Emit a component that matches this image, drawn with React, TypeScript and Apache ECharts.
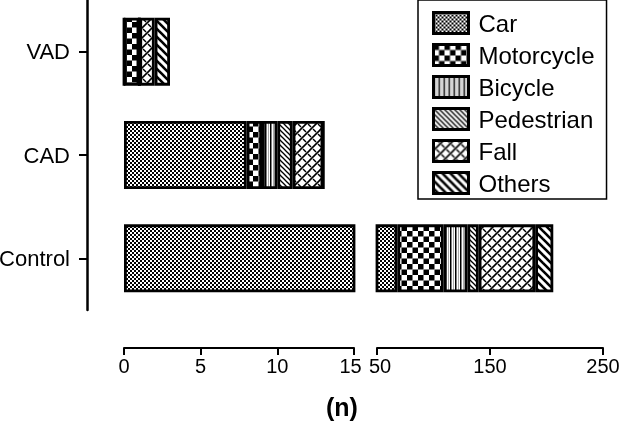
import React, { useEffect, useRef } from "react";
import * as echarts from "echarts";

const categories = ["Control", "CAD", "VAD"];
const seriesNames = ["Car", "Motorcycle", "Bicycle", "Pedestrian", "Fall", "Others"];
const car = [68, 8, 0];
const motorcycle = [41, 1, 1];
const bicycle = [21, 1, 0];
const pedestrian = [10, 1, 0];
const fall = [50, 2, 1];
const others = [16, 0, 1];
const leftTicks = [0, 5, 10, 15];
const rightTicks = [50, 150, 250];

const FONT = "'Liberation Sans', Arial, sans-serif";

function tile(w: number, h: number, draw: (ctx: CanvasRenderingContext2D) => void) {
  const c = document.createElement("canvas");
  c.width = w;
  c.height = h;
  const ctx = c.getContext("2d")!;
  ctx.fillStyle = "#fff";
  ctx.fillRect(0, 0, w, h);
  ctx.fillStyle = "#000";
  ctx.strokeStyle = "#000";
  draw(ctx);
  return c;
}

function makePatterns() {
  const carP = tile(4, 4, (ctx) => {
    ctx.fillRect(0, 0, 2, 2);
    ctx.fillRect(2, 2, 2, 2);
  });
  const motoP = tile(11, 11, (ctx) => {
    ctx.fillRect(0, 0, 5.5, 5.5);
    ctx.fillRect(5.5, 5.5, 5.5, 5.5);
  });
  const bikeP = tile(5, 4, (ctx) => {
    ctx.fillRect(0, 0, 1.5, 4);
    ctx.fillStyle = "#aaa";
    ctx.fillRect(3, 0, 1, 4);
  });
  const pedP = tile(5, 5, (ctx) => {
    ctx.lineWidth = 1.3;
    for (let k = -1; k <= 1; k++) {
      ctx.beginPath();
      ctx.moveTo(k * 5 - 1, -1);
      ctx.lineTo(k * 5 + 6, 6);
      ctx.stroke();
    }
  });
  const fallP = tile(10, 10, (ctx) => {
    ctx.lineWidth = 1.6;
    for (let k = -1; k <= 1; k++) {
      ctx.beginPath();
      ctx.moveTo(k * 10 - 1, 11);
      ctx.lineTo(k * 10 + 11, -1);
      ctx.stroke();
    }
    ctx.lineWidth = 1.4;
    const segs = [
      [3, -1, 6, 2],
      [8, 4, 11, 7],
      [-2, 4, 1, 7],
      [3, 9, 6, 12],
    ];
    for (const [a, b, c, d] of segs) {
      ctx.beginPath();
      ctx.moveTo(a, b);
      ctx.lineTo(c, d);
      ctx.stroke();
    }
  });
  const othP = tile(8, 8, (ctx) => {
    ctx.lineWidth = 2.6;
    for (let k = -1; k <= 1; k++) {
      ctx.beginPath();
      ctx.moveTo(k * 8 - 2, -2);
      ctx.lineTo(k * 8 + 10, 10);
      ctx.stroke();
    }
  });
  return [carP, motoP, bikeP, pedP, fallP, othP];
}

export default function App() {
  const ref = useRef<HTMLDivElement>(null);
  useEffect(() => {
    if (!ref.current) return;
    const chart = echarts.init(ref.current, undefined, { renderer: "svg" });
    const pats = makePatterns();
    const values = [car, motorcycle, bicycle, pedestrian, fall, others];
    const series: any[] = [];
    for (let p = 0; p < 2; p++) {
      seriesNames.forEach((name, i) => {
        series.push({
          type: "bar",
          name,
          stack: p === 0 ? "left" : "right",
          xAxisIndex: p,
          yAxisIndex: p,
          barWidth: 68,
          clip: true,
          data: values[i],
          itemStyle: {
            color: { image: pats[i], repeat: "repeat" },
            borderColor: "#000",
            borderWidth: 2.8,
          },
          emphasis: { disabled: true },
        });
      });
    }
    const labelBase = { color: "#000", fontSize: 20, fontFamily: FONT, margin: 8 };
    const xAxisCommon = {
      type: "value",
      position: "bottom",
      offset: 38,
      splitLine: { show: false },
      axisLine: { show: true, onZero: false, lineStyle: { color: "#000", width: 2 } },
      axisTick: { show: true, length: 7, lineStyle: { color: "#000", width: 2 } },
    };
    chart.setOption({
      animation: false,
      grid: [
        { left: 124, width: 230, top: 0, height: 310, outerBoundsMode: "none", containLabel: false },
        { left: 377, width: 226, top: 0, height: 310, outerBoundsMode: "none", containLabel: false },
      ],
      xAxis: [
        {
          ...xAxisCommon,
          gridIndex: 0,
          min: 0,
          max: 15,
          interval: 5,
          axisLabel: {
            ...labelBase,
            customValues: leftTicks,
            formatter: (v: number) => (v === 15 ? "{l|" + v + "}" : String(v)),
            rich: { l: { fontSize: 20, fontFamily: FONT, color: "#000", padding: [0, 7, 0, 0] } },
          },
          axisTick: { ...xAxisCommon.axisTick, customValues: leftTicks },
        },
        {
          ...xAxisCommon,
          gridIndex: 1,
          min: 50,
          max: 250,
          axisLabel: {
            ...labelBase,
            customValues: rightTicks,
            formatter: (v: number) => (v === 50 ? "{r|" + v + "}" : String(v)),
            rich: { r: { fontSize: 20, fontFamily: FONT, color: "#000", padding: [0, 0, 0, 6] } },
          },
          axisTick: { ...xAxisCommon.axisTick, customValues: rightTicks },
        },
      ],
      yAxis: [
        {
          type: "category",
          gridIndex: 0,
          data: categories,
          offset: 37,
          axisLine: { show: true, onZero: false, lineStyle: { color: "#000", width: 2.5 } },
          axisTick: { show: true, alignWithLabel: true, length: 8, lineStyle: { color: "#000", width: 2 } },
          axisLabel: { color: "#000", fontSize: 22, fontFamily: FONT, margin: 17 },
        },
        { type: "category", gridIndex: 1, data: categories, show: false },
      ],
      legend: {
        data: seriesNames,
        orient: "vertical",
        left: 418,
        top: 0,
        icon: "rect",
        itemWidth: 35,
        itemHeight: 21,
        itemGap: 8,
        borderColor: "#000",
        borderWidth: 1.5,
        padding: [11, 12, 4, 14],
        selectedMode: false,
        itemStyle: { borderColor: "#000", borderWidth: 3 },
        textStyle: { color: "#000", fontSize: 24, fontFamily: FONT, padding: [0, 0, 0, 5] },
      },
      graphic: [
        {
          type: "text",
          left: 326,
          top: 394,
          style: { text: "(n)", fontSize: 25, fontWeight: "bold", fontFamily: FONT, fill: "#000" },
        },
      ],
      series,
    });
    return () => chart.dispose();
  }, []);
  return <div ref={ref} style={{ position: "fixed", left: 0, top: 0, width: 621, height: 422 }} />;
}
